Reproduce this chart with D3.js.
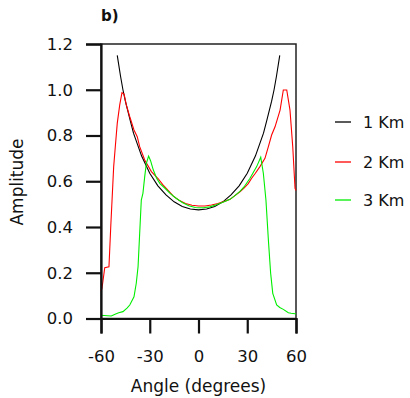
<!DOCTYPE html>
<html>
<head>
<meta charset="utf-8">
<script src="https://d3js.org/d3.v7.min.js"></script>
<style>
    body { margin: 0; background: #fff; }
    text { font-family: "DejaVu Sans", sans-serif; fill: #111; }
</style>
</head>
<body>
<script>

    // ---- data ----
    var xTicks = [-60, -30, 0, 30, 60];
    var yTicks = [0.0, 0.2, 0.4, 0.6, 0.8, 1.0, 1.2];
    var seriesNames = ["1 Km", "2 Km", "3 Km"];
    var seriesColors = ["#000000", "#ff0000", "#00ee00"];

    // 1 Km
    var angle1 = [-50, -48, -46.5, -45, -42, -40, -35, -30, -25, -20, -15, -10, -5, 0, 5, 10, 15, 20, 25, 30, 35, 40, 42, 45, 46.5, 48, 50];
    var amp1 = [1.15, 1.06, 1.0, 0.95, 0.865, 0.81, 0.71, 0.635, 0.58, 0.54, 0.51, 0.49, 0.479, 0.475, 0.479, 0.49, 0.51, 0.54, 0.58, 0.635, 0.71, 0.81, 0.865, 0.95, 1.0, 1.06, 1.15];

    // 2 Km
    var angle2 = [-60, -59.4, -57.7, -55.1, -54, -53.2, -52.2, -51.2, -50, -48.5, -47.1, -45.8, -44.4, -42.3, -39.7, -37.7, -36.2, -33.1, -29, -24.9, -22, -18, -15.5, -12, -8, -4, 0, 4, 8, 12, 16, 19.4, 22, 25.5, 28, 30.6, 32.7, 35, 37.8, 40.9, 43, 45, 47.1, 50.2, 52.2, 54.3, 56.3, 58, 59.4, 60];
    var amp2 = [0.12, 0.132, 0.222, 0.226, 0.401, 0.518, 0.664, 0.751, 0.853, 0.933, 0.987, 0.981, 0.933, 0.882, 0.824, 0.795, 0.751, 0.693, 0.642, 0.612, 0.585, 0.555, 0.535, 0.517, 0.503, 0.495, 0.492, 0.492, 0.496, 0.503, 0.512, 0.521, 0.535, 0.554, 0.57, 0.59, 0.613, 0.635, 0.664, 0.7, 0.751, 0.802, 0.838, 0.911, 0.999, 0.999, 0.911, 0.751, 0.569, 0.56];

    // 3 Km
    var angle3 = [-60, -59.8, -56, -53.7, -51, -49.1, -46.5, -44, -42.3, -39.7, -38.3, -37.2, -35.2, -34.2, -33.1, -32.1, -30.7, -29.5, -27.8, -25.7, -23.7, -20, -17.5, -14, -10, -6, -2, 0, 3, 7, 11, 15, 19.4, 22, 25.5, 28, 31.7, 35.8, 38.3, 39.9, 41.5, 43, 44.4, 45.7, 48.1, 50, 52.2, 55.3, 57, 59.4, 60];
    var amp3 = [0.012, 0.014, 0.012, 0.011, 0.02, 0.025, 0.03, 0.045, 0.059, 0.095, 0.154, 0.226, 0.518, 0.547, 0.62, 0.678, 0.71, 0.69, 0.649, 0.612, 0.59, 0.565, 0.547, 0.527, 0.507, 0.493, 0.485, 0.484, 0.484, 0.488, 0.497, 0.508, 0.521, 0.535, 0.556, 0.575, 0.613, 0.664, 0.705, 0.635, 0.518, 0.343, 0.198, 0.11, 0.059, 0.048, 0.04, 0.025, 0.023, 0.021, 0.02];

    var seriesAngles = [angle1, angle2, angle3];
    var seriesAmps = [amp1, amp2, amp3];

    // ---- layout ----
    var W = 410, H = 398;
    var plot = {left: 101, right: 296, top: 44, bottom: 318.5};

    var svg = d3.select("body").append("svg")
        .attr("width", W)
        .attr("height", H);

    var x = d3.scaleLinear().domain([-60, 60]).range([plot.left, plot.right]);
    var y = d3.scaleLinear().domain([0, 1.2]).range([plot.bottom, plot.top]);

    // box round the plot
    svg.append("rect")
        .attr("x", plot.left)
        .attr("y", plot.top)
        .attr("width", plot.right - plot.left)
        .attr("height", plot.bottom - plot.top)
        .attr("fill", "none")
        .attr("stroke", "#222")
        .attr("stroke-width", 1.5);

    // curves
    var line = d3.line()
        .x(function (d) { return x(d[0]); })
        .y(function (d) { return y(d[1]); });

    seriesNames.forEach(function (name, i) {
        var pts = d3.zip(seriesAngles[i], seriesAmps[i]);
        svg.append("path")
            .datum(pts)
            .attr("d", line)
            .attr("fill", "none")
            .attr("stroke", seriesColors[i])
            .attr("stroke-width", 1.1);
    });

    // axes (plain hyphen for negatives, like the original)
    var xAxis = d3.axisBottom(x).tickValues(xTicks).tickSize(15).tickPadding(10)
        .tickFormat(function (d) { return String(d); });
    var yAxis = d3.axisLeft(y).tickValues(yTicks).tickSize(15).tickPadding(13)
        .tickFormat(function (d) { return d.toFixed(1); });

    var gx = svg.append("g")
        .attr("transform", "translate(0," + plot.bottom + ")")
        .call(xAxis);
    var gy = svg.append("g")
        .attr("transform", "translate(" + plot.left + ",0)")
        .call(yAxis);

    [gx, gy].forEach(function (g) {
        g.select(".domain").attr("stroke", "#111").attr("stroke-width", 2.2);
        g.selectAll(".tick line").attr("stroke", "#111").attr("stroke-width", 2.2);
        g.selectAll(".tick text")
            .attr("fill", "#111")
            .style("font-family", "DejaVu Sans, sans-serif")
            .style("font-size", "16.5px");
    });
    gx.selectAll(".tick text").attr("dy", "1.15em");

    // axis titles
    svg.append("text")
        .attr("x", (plot.left + plot.right) / 2)
        .attr("y", 392)
        .attr("text-anchor", "middle")
        .style("font-size", "17px")
        .text("Angle (degrees)");

    svg.append("text")
        .attr("transform", "translate(23," + 182 + ") rotate(-90)")
        .attr("text-anchor", "middle")
        .style("font-size", "17px")
        .text("Amplitude");

    svg.append("text")
        .attr("x", 101)
        .attr("y", 21)
        .style("font-size", "15px")
        .style("font-weight", "bold")
        .text("b)");

    // legend
    var legendY = [122, 162, 200];
    seriesNames.forEach(function (name, i) {
        var g = svg.append("g").attr("transform", "translate(335," + legendY[i] + ")");
        g.append("line")
            .attr("x1", 0).attr("x2", 16)
            .attr("y1", 0).attr("y2", 0)
            .attr("stroke", seriesColors[i])
            .attr("stroke-width", 1.3);
        g.append("text")
            .attr("x", 28)
            .attr("y", 6)
            .style("font-size", "16px")
            .text(name);
    });

</script>
</body>
</html>
